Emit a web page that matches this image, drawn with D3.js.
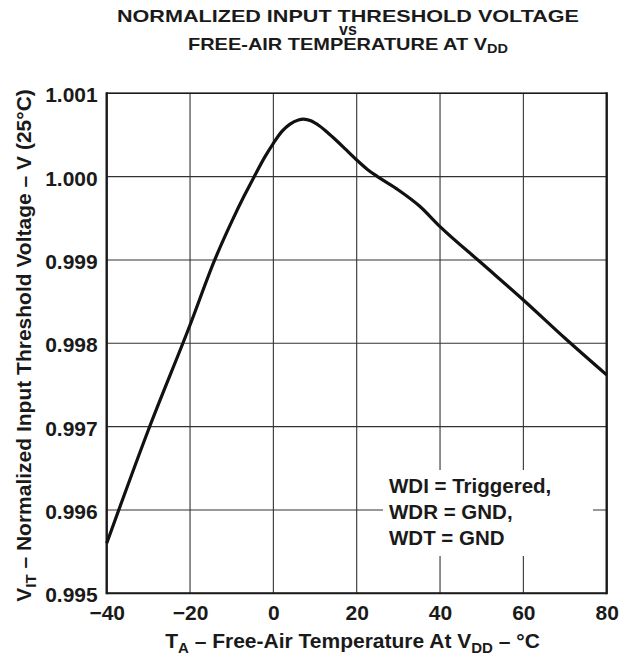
<!DOCTYPE html>
<html><head><meta charset="utf-8">
<script src="https://cdn.jsdelivr.net/npm/d3@7"></script>
<style>
body{margin:0;background:#fff}
text{font-family:"Liberation Sans",Arial,Helvetica,sans-serif;font-weight:bold;fill:#1a1a1a}
</style>
</head><body>
<svg id="c" width="634" height="664"></svg>
<script>
// ---- data ----
const temps  = [-40, -30, -20, -14, -10, -7, -4.6, -2, 0, 2, 4, 6, 7.2, 9, 11, 13, 15, 17.5, 20, 22.5, 25, 30, 35, 40, 50, 60, 70, 80];
const values = [0.9956, 0.99696, 0.99822, 0.99901, 0.99946, 0.99977, 1.0000, 1.00024, 1.0004, 1.00054, 1.00063, 1.00068, 1.00069, 1.00067, 1.00061, 1.00053, 1.00044, 1.00032, 1.0002, 1.00009, 1.0000, 0.99984, 0.99965, 0.9994, 0.99896, 0.99852, 0.99806, 0.99762];
const xTicks = [-40, -20, 0, 20, 40, 60, 80];
const yTicks = [0.995, 0.996, 0.997, 0.998, 0.999, 1.000, 1.001];
const xTickLabels = ["\u221240", "\u221220", "0", "20", "40", "60", "80"];
const yTickLabels = ["0.995", "0.996", "0.997", "0.998", "0.999", "1.000", "1.001"];
const titleLines = ["NORMALIZED INPUT THRESHOLD VOLTAGE", "vs", "FREE-AIR TEMPERATURE AT V"];
const legendLines = ["WDI = Triggered,", "WDR = GND,", "WDT = GND"];

// ---- layout ----
const L = 106.7, R = 606.7, T = 93.3, B = 593.3;
const FONT = '"Liberation Sans",Arial,sans-serif';
const svg = d3.select("#c");
const x = d3.scaleLinear().domain([-40, 80]).range([L, R]);
const y = d3.scaleLinear().domain([0.995, 1.001]).range([B, T]);

// grid
const grid = svg.append("g").attr("stroke", "#333").attr("stroke-width", 1.1);
grid.selectAll(".gx").data(xTicks).join("line")
  .attr("x1", d => x(d)).attr("x2", d => x(d)).attr("y1", T).attr("y2", B);
grid.selectAll(".gy").data(yTicks).join("line")
  .attr("y1", d => y(d)).attr("y2", d => y(d)).attr("x1", L).attr("x2", R);

// legend background box (gridlines hidden behind)
svg.append("rect").attr("x", 383).attr("y", 470).attr("width", 210).attr("height", 86).attr("fill", "#fff");

// frame
svg.append("line").attr("x1", L).attr("x2", L).attr("y1", T - 1).attr("y2", B + 1).attr("stroke", "#1a1a1a").attr("stroke-width", 2.4);
svg.append("line").attr("x1", R).attr("x2", R).attr("y1", T - 1).attr("y2", B + 1).attr("stroke", "#1a1a1a").attr("stroke-width", 2.4);
svg.append("line").attr("x1", L).attr("x2", R).attr("y1", B).attr("y2", B).attr("stroke", "#1a1a1a").attr("stroke-width", 2);
svg.append("line").attr("x1", L).attr("x2", R).attr("y1", T).attr("y2", T).attr("stroke", "#1a1a1a").attr("stroke-width", 1.5);

// curve
const line = d3.line().x((d, i) => x(temps[i])).y(d => y(d)).curve(d3.curveMonotoneX);
svg.append("path").datum(values).attr("d", line)
  .attr("fill", "none").attr("stroke", "#111").attr("stroke-width", 3.2).attr("stroke-linejoin", "round");

// axes labels via d3 axes
const xAxis = d3.axisBottom(x).tickValues(xTicks).tickSize(0).tickPadding(12)
  .tickFormat((d, i) => xTickLabels[i]);
const gx = svg.append("g").attr("transform", `translate(0,${B})`).call(xAxis);
gx.select(".domain").remove();
gx.selectAll("text").style("font-size", "21px").style("font-family", FONT).style("font-weight", "bold").attr("fill", "#1a1a1a");

const yAxis = d3.axisLeft(y).tickValues(yTicks).tickSize(0).tickPadding(9)
  .tickFormat((d, i) => yTickLabels[i]);
const gy = svg.append("g").attr("transform", `translate(${L},0)`).call(yAxis);
gy.select(".domain").remove();
gy.selectAll("text").style("font-size", "21px").style("font-family", FONT).style("font-weight", "bold").attr("fill", "#1a1a1a").attr("dy", "0.4em");

// title
const tcx = 348;
svg.append("text").attr("x", tcx).attr("y", 22).attr("text-anchor", "middle").style("font-size", "16.5px")
  .attr("textLength", 462).attr("lengthAdjust", "spacingAndGlyphs").text(titleLines[0]);
svg.append("text").attr("x", tcx).attr("y", 35).attr("text-anchor", "middle").style("font-size", "16px")
  .text(titleLines[1]);
const t3 = svg.append("text").attr("x", tcx).attr("y", 49.5).attr("text-anchor", "middle").style("font-size", "16.5px")
  .attr("textLength", 320).attr("lengthAdjust", "spacingAndGlyphs");
t3.append("tspan").text(titleLines[2]);
t3.append("tspan").attr("dy", 3.5).style("font-size", "12px").text("DD");

// x label
const xl = svg.append("text").attr("x", 352.5).attr("y", 648).attr("text-anchor", "middle").style("font-size", "21px");
xl.append("tspan").text("T");
xl.append("tspan").attr("dy", 5).style("font-size", "15px").text("A");
xl.append("tspan").attr("dy", -5).text(" \u2013 Free-Air Temperature At V");
xl.append("tspan").attr("dy", 5).style("font-size", "15px").text("DD");
xl.append("tspan").attr("dy", -5).text(" \u2013 \u00B0C");

// y label
const yl = svg.append("text").attr("transform", "translate(31,345.5) rotate(-90)").attr("text-anchor", "middle").style("font-size", "21px");
yl.append("tspan").text("V");
yl.append("tspan").attr("dy", 5).style("font-size", "15px").text("IT");
yl.append("tspan").attr("dy", -5).text(" \u2013 Normalized Input Threshold Voltage \u2013 V (25\u00B0C)");

// legend text
svg.selectAll(".leg").data(legendLines).join("text")
  .attr("x", 389).attr("y", (d, i) => 493 + i * 26)
  .style("font-size", "20.5px").text(d => d);
</script>
</body></html>
